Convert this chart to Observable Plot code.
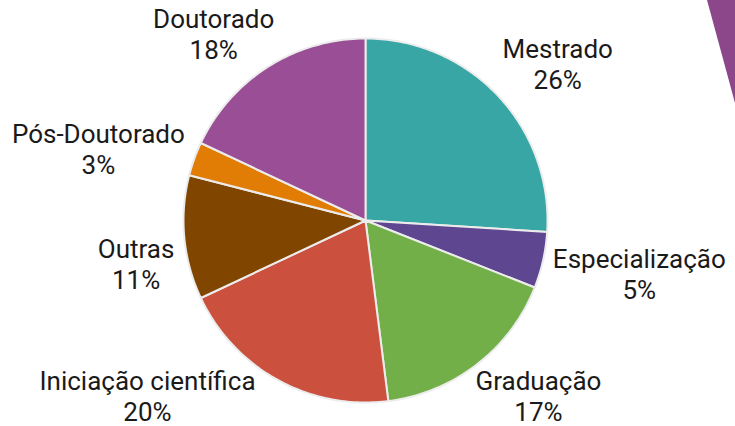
<!DOCTYPE html>
<html><head><meta charset="utf-8">
<script src="https://cdn.jsdelivr.net/npm/d3@7"></script>
<script src="https://cdn.jsdelivr.net/npm/@observablehq/plot@0.6"></script>
<style>
html,body{margin:0;padding:0;background:#fff;}
#wrap{position:relative;width:735px;height:426px;overflow:hidden;}
#deco{position:absolute;left:0;top:0;width:735px;height:426px;background:#8b4789;clip-path:polygon(707px 0,735px 0,735px 103px);z-index:1;}
</style></head><body><div id="wrap"><div id="chart"></div><div id="deco"></div></div>
<script>
// ---- data ----
const categories = ["Mestrado", "Especialização", "Graduação", "Iniciação científica", "Outras", "Pós-Doutorado", "Doutorado"];
const shares = [26, 5, 17, 20, 11, 3, 18];
const colors = ["#38A6A5", "#5F4690", "#73AF48", "#CC503E", "#804600", "#E17C05", "#994E95"];

// ---- layout ----
const W = 735, H = 426;
const CX = 365, CY = 220, R = 182;
const GAP = 10, FONT = 26, LINE = 31, BOXH = 50, SEP = 115;

const total = d3.sum(shares);
let cum = 0;
const slices = categories.map((name, i) => {
  const a0 = cum / total * 2 * Math.PI;
  cum += shares[i];
  const a1 = cum / total * 2 * Math.PI;
  return {name, value: shares[i], a0, a1};
});

// polygon points of each slice
const slicePts = [];
for (const s of slices) {
  slicePts.push({name: s.name, x: CX, y: CY});
  const n = Math.max(2, Math.ceil((s.a1 - s.a0) / (Math.PI / 180)));
  for (let k = 0; k <= n; k++) {
    const t = s.a0 + (s.a1 - s.a0) * k / n;
    slicePts.push({name: s.name, x: CX + R * Math.sin(t), y: CY - R * Math.cos(t)});
  }
}

// labels
const ctx = document.createElement("canvas").getContext("2d");
ctx.font = `${FONT}px Roboto`;
const clamp = (v, a, b) => Math.max(a, Math.min(b, v));
const labels = slices.map(s => {
  const a = (s.a0 + s.a1) / 2;
  const sa = Math.sin(a), ca = Math.cos(a);
  const px = CX + (R + GAP) * sa, py = CY - (R + GAP) * ca;
  const lines = [s.name, s.value + "%"];
  const w = d3.max(lines, l => ctx.measureText(l).width);
  return {
    text: lines.join("\n"), w, side: sa >= 0 ? 1 : -1,
    x: px + (w / 2) * clamp(1.3 * sa, -1, 1),
    y: py + (BOXH / 2) * clamp(-2 * ca, -1, 1)
  };
});
// vertical de-overlap per side
const YMIN = 32, YMAX = H - 31;
for (const side of [1, -1]) {
  const g = labels.filter(l => l.side === side).sort((p, q) => p.y - q.y);
  g.forEach(l => l.y = clamp(l.y, YMIN, YMAX));
  for (let i = 1; i < g.length; i++) if (g[i].y - g[i - 1].y < SEP) g[i].y = g[i - 1].y + SEP;
  for (let i = g.length - 1; i >= 0; i--) {
    if (g[i].y > YMAX) g[i].y = YMAX;
    if (i < g.length - 1 && g[i + 1].y - g[i].y < SEP) g[i].y = g[i + 1].y - SEP;
  }
}
// keep boxes clear of the pie
for (const l of labels) {
  const y0 = l.y - BOXH / 2, y1 = l.y + BOXH / 2;
  const ny = clamp(CY, y0, y1);
  const dy = Math.abs(ny - CY), Rc = R + 4;
  if (dy < Rc) {
    const need = Math.sqrt(Rc * Rc - dy * dy);
    if (l.side > 0) { const x0 = l.x - l.w / 2; if (x0 < CX + need) l.x = CX + need + l.w / 2; }
    else { const x1 = l.x + l.w / 2; if (x1 > CX - need) l.x = CX - need - l.w / 2; }
  }
}

const chart = Plot.plot({
  width: W, height: H, margin: 0,
  x: {domain: [0, W], range: [0, W], axis: null},
  y: {domain: [0, H], range: [0, H], axis: null},
  color: {domain: categories, range: colors},
  style: {background: "transparent", fontFamily: "Roboto, sans-serif"},
  marks: [
    Plot.line(slicePts, {x: "x", y: "y", z: "name", fill: "name", stroke: "#ececec", strokeWidth: 2, strokeLinejoin: "round", curve: "linear-closed"}),
    Plot.text(labels, {x: "x", y: "y", text: "text", fontSize: FONT, lineHeight: LINE / FONT, fill: "#1a1a1a", textAnchor: "middle", lineAnchor: "middle"})
  ]
});
document.getElementById("chart").appendChild(chart);
</script>
</body></html>
